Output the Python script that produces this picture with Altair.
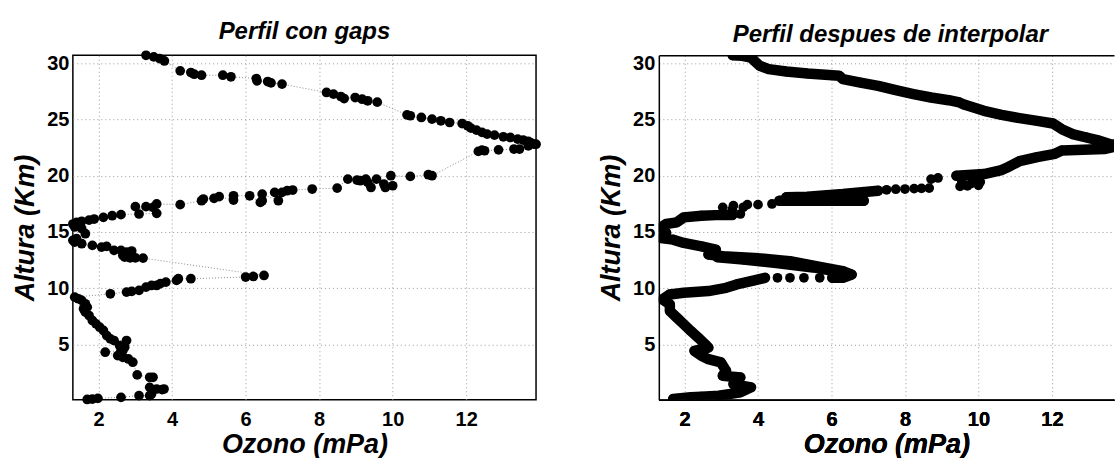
import altair as alt
import pandas as pd

# ---------------- data: measured profile with gaps (left) ----------------
gap_ozone = [1.69, 1.83, 1.98, 2.61, 3.10, 3.39, 3.44, 3.78, 3.73, 3.58, 3.39, 3.48, 3.39, 3.05,
             2.93, 2.81, 2.66, 2.52, 2.18, 2.61, 2.66, 2.71, 2.57, 2.76, 2.42, 2.32, 2.22, 2.13,
             2.03, 1.93, 1.83, 1.74, 1.64, 1.59, 1.69, 1.64, 1.54, 1.45, 1.35, 2.32, 2.76, 2.90,
             3.10, 3.29, 3.44, 3.58, 3.68, 3.83, 4.12, 4.17, 4.51, 6.00, 6.21, 6.50, 3.21, 3.00,
             2.86, 2.71, 2.66, 2.90, 2.76, 2.61, 2.42, 2.22, 2.08, 1.83, 1.54, 1.35, 1.30, 1.40,
             1.64, 1.54, 1.35, 1.30, 1.40, 1.54, 1.74, 1.88, 2.13, 2.37, 2.61, 3.10, 3.58, 3.00,
             3.29, 3.48, 3.58, 4.22, 4.80, 4.85, 5.14, 5.28, 5.67, 5.67, 6.11, 6.40, 6.45, 6.45,
             6.89, 6.79, 6.99, 7.13, 7.28, 7.81, 8.49, 8.78, 9.03, 9.12, 9.27, 9.32, 9.41, 9.56,
             9.76, 9.80, 10.00, 9.95, 10.48, 10.97, 11.07, 12.33, 12.43, 12.50, 12.88, 13.30, 13.45,
             13.69, 13.90, 13.84, 13.75, 13.69, 13.55, 13.40, 13.20, 13.01, 12.77, 12.57, 12.43,
             12.28, 12.13, 12.04, 11.89, 11.55, 11.31, 11.07, 10.78, 10.48, 10.39, 9.58, 9.32,
             9.17, 8.98, 8.68, 8.59, 8.39, 8.20, 6.99, 6.69, 6.60, 6.31, 6.29, 5.60, 5.38, 4.80,
             4.60, 4.51, 4.22, 3.79, 3.66, 3.50, 3.29]
gap_alt = [0.12, 0.16, 0.22, 0.31, 0.46, 0.46, 0.60, 1.05, 0.99, 1.05, 1.20, 2.09, 2.09, 2.30,
           3.43, 3.72, 3.87, 4.02, 4.32, 4.47, 4.47, 4.76, 4.91, 5.36, 5.36, 5.50, 5.80, 6.25,
           6.54, 6.84, 7.14, 7.58, 7.88, 8.18, 8.32, 8.62, 8.92, 9.07, 9.21, 9.51, 9.66, 9.72,
           9.81, 10.10, 10.25, 10.25, 10.41, 10.55, 10.70, 10.85, 10.85, 11.00, 11.05, 11.14, 12.68, 12.71,
           12.71, 12.77, 12.92, 13.31, 13.22, 13.37, 13.37, 13.72, 13.66, 13.81, 13.96, 14.11, 14.26, 14.41,
           14.85, 15.30, 15.45, 15.71, 15.86, 15.95, 16.06, 16.15, 16.30, 16.45, 16.54, 16.60, 16.66, 17.25,
           17.25, 17.19, 17.49, 17.43, 17.78, 17.93, 17.99, 18.14, 17.84, 18.22, 18.22, 17.63, 17.78, 18.37,
           17.78, 18.52, 18.52, 18.67, 18.73, 18.82, 18.90, 19.70, 19.61, 19.56, 19.70, 19.41, 18.96, 19.70,
           19.26, 18.96, 19.11, 20.00, 19.94, 20.09, 20.00, 22.16, 22.28, 22.22, 22.30, 22.37, 22.37,
           22.66, 22.80, 22.81, 22.95, 23.05, 23.17, 23.25, 23.40, 23.46, 23.61, 23.70, 23.85,
           24.05, 24.23, 24.44, 24.64, 24.73, 24.88, 25.03, 25.18, 25.33, 25.41, 26.54, 26.66,
           26.80, 26.95, 26.86, 27.04, 27.25, 27.40, 28.14, 28.25, 28.37, 28.43, 28.64, 28.79, 28.93, 28.93,
           29.02, 29.17, 29.32, 30.20, 30.41, 30.56, 30.70]

# ---------------- data: profile after interpolation (right) ----------------
# dense runs of interpolated points (they merge into a thick band)
run_ozone = [3.31, 3.57, 3.81, 3.90, 4.05, 4.29, 4.77, 5.35, 6.21, 6.31, 6.79, 7.27, 7.75, 8.23,
             8.71, 9.19, 9.48, 9.63, 10.15, 10.63, 11.12, 11.60, 12.03, 12.27, 12.56, 12.94, 13.23,
             13.57, 13.90, 13.42, 12.27, 12.08, 11.60, 11.12, 10.83, 10.63, 10.15, 9.40,
             7.27, 6.31, 5.35, 4.77,
             4.58, 5.70, 6.88,
             3.30, 2.85, 2.46, 1.98, 1.79, 1.50, 1.35, 1.50, 1.36, 1.69, 1.98, 2.46, 2.85, 2.65,
             3.04, 3.90, 4.87, 5.83, 6.31, 6.55, 6.31, 6.02,
             4.19, 3.81, 3.42, 3.13, 2.65, 1.98, 1.60, 1.40, 1.60, 1.60, 1.79, 1.98, 2.17, 2.37,
             2.56, 2.65, 2.27, 2.46, 2.65, 2.99, 3.13, 3.04, 3.52, 3.33, 3.81, 3.52, 2.94, 2.46,
             2.17, 1.69,
             2.90, 3.60, 4.50, 5.50, 6.20, 6.50]
run_alt = [30.70, 30.65, 30.50, 30.20, 29.76, 29.47, 29.26, 29.08, 28.88, 28.58, 28.28, 27.99, 27.60, 27.25,
           26.95, 26.71, 26.51, 26.30, 25.77, 25.41, 25.12, 24.88, 24.64, 24.14, 23.70, 23.40, 23.17,
           22.81, 22.70, 22.37, 22.25, 21.95, 21.66, 21.30, 20.80, 20.50, 20.15, 20.00,
           18.67, 18.37, 18.14, 18.10,
           17.78, 17.78, 17.78,
           16.50, 16.50, 16.45, 16.30, 15.86, 15.71, 15.40, 14.91, 14.47, 14.32, 14.03, 13.73, 13.44, 13.00,
           12.85, 12.70, 12.40, 11.81, 11.52, 11.22, 10.93, 10.93,
           10.93, 10.63, 10.34, 10.04, 9.75, 9.60, 9.45, 9.01, 8.57, 7.98, 7.39, 6.80, 6.21, 5.62,
           5.03, 4.73, 4.44, 4.00, 3.70, 3.41, 2.67, 2.23, 2.08, 1.49, 1.20, 0.75, 0.46, 0.37,
           0.31, 0.16,
           12.75, 12.55, 12.25, 11.85, 11.45, 11.25]
run_id = ["a"] * 38 + ["b"] * 4 + ["c"] * 3 + ["d"] * 22 + ["e"] * 30 + ["f"] * 6

# isolated interpolated points (visible as separate dots)
dot_ozone = [8.71, 8.90, 9.55, 9.80, 10.00, 9.70, 9.85, 10.05, 9.50,
             7.50, 7.75, 8.00, 8.25, 8.45, 8.66,
             4.38, 4.00, 3.71, 3.33, 3.04, 3.52, 3.30, 3.60,
             5.68, 5.25, 4.87, 4.53]
dot_alt = [19.70, 19.80, 19.50, 19.30, 19.15, 19.10, 19.60, 19.45, 19.05,
           18.75, 18.80, 18.82, 18.85, 18.88, 18.90,
           17.49, 17.43, 17.43, 17.34, 17.19, 16.60, 17.00, 17.20,
           10.93, 10.93, 10.93, 10.93]

x_ticks = [2, 4, 6, 8, 10, 12]
y_ticks = [5, 10, 15, 20, 25, 30]
x_domain = [1.3, 13.9]
x_domain_right = [1.3, 13.69]   # the right panel runs past the picture's edge
y_domain = [0.1, 30.7]

FONT = "Liberation Sans"
W, H = 464, 345
W_RIGHT = 456

gap_df = pd.DataFrame({"ozone": gap_ozone, "alt": gap_alt, "i": range(len(gap_ozone))})
run_df = pd.DataFrame({"ozone": run_ozone, "alt": run_alt, "run": run_id, "i": range(len(run_ozone))})
dot_df = pd.DataFrame({"ozone": dot_ozone, "alt": dot_alt})

ys = alt.Scale(domain=y_domain, nice=False, zero=False)
xax = alt.Axis(values=x_ticks, title="Ozono (mPa)", labelPadding=10, titlePadding=2, orient="bottom")
yax = alt.Axis(values=y_ticks, title="Altura (Km)", labelPadding=4, titlePadding=7)

Xl = alt.X("ozone:Q", scale=alt.Scale(domain=x_domain, nice=False, zero=False), axis=xax)
Y = alt.Y("alt:Q", scale=ys, axis=yax)

title_kw = dict(font=FONT, fontSize=24, fontWeight="bold", fontStyle="italic", color="black",
                offset=6, anchor="middle")

DOT = 95

left_line = alt.Chart(gap_df).mark_line(color="#8c8c8c", strokeDash=[1, 2], strokeWidth=1).encode(
    x=Xl, y=Y, order="i:Q")
left_pts = alt.Chart(gap_df).mark_circle(color="black", opacity=1, size=DOT).encode(x=Xl, y=Y)
left = alt.layer(left_line, left_pts).properties(
    width=W, height=H, title=alt.TitleParams("Perfil con gaps", **title_kw))

# right panel: frame drawn by axis domains (left, bottom, top); its right side lies off the picture
xs_r = alt.Scale(domain=x_domain_right, nice=False, zero=False)
xax_r = alt.Axis(values=x_ticks, title="Ozono (mPa)", labelPadding=10, titlePadding=2, orient="bottom",
                 domain=True, domainColor="black", domainWidth=1.5)
yax_r = alt.Axis(values=y_ticks, title="Altura (Km)", labelPadding=4, titlePadding=7,
                 domain=True, domainColor="black", domainWidth=1.5)
Xr = alt.X("ozone:Q", scale=xs_r, axis=xax_r)
Yr = alt.Y("alt:Q", scale=ys, axis=yax_r)
Xr_top = alt.X("ozone:Q", scale=xs_r,
               axis=alt.Axis(orient="top", labels=False, ticks=False, grid=False, domain=True,
                             domainColor="black", domainWidth=1.5, title=""))

right_band = alt.Chart(run_df).mark_line(color="black", strokeWidth=10.5, strokeCap="round",
                                         strokeJoin="round", clip=True).encode(
    x=Xr, y=Yr, detail="run:N", order="i:Q")
right_pts = alt.Chart(run_df).mark_circle(color="black", opacity=1, size=DOT, clip=True).encode(x=Xr, y=Yr)
right_dots = alt.Chart(dot_df).mark_circle(color="black", opacity=1, size=DOT, clip=True).encode(x=Xr, y=Yr)
right_top = alt.Chart(dot_df).mark_circle(opacity=0, clip=True).encode(x=Xr_top, y=Yr)
right = alt.layer(right_band, right_pts, right_dots, right_top).resolve_axis(x="independent").properties(
    width=W_RIGHT, height=H,
    view=alt.ViewBackground(stroke="transparent"),
    title=alt.TitleParams("Perfil despues de interpolar", dx=4, **title_kw))

chart = alt.hconcat(left, right, spacing=55).properties(
    padding={"left": 11, "top": 19, "right": 0, "bottom": 0},
    background="white",
).configure_view(
    stroke="black", strokeWidth=1.5
).configure_axis(
    labelFont=FONT, labelFontSize=20, labelFontWeight="bold", labelColor="black",
    titleFont=FONT, titleFontSize=27, titleFontWeight="bold", titleFontStyle="italic",
    titleColor="black",
    grid=True, gridColor="#9a9a9a", gridDash=[1, 3], gridWidth=1,
    domain=False, ticks=False,
)

chart.save("out.html", embed_options={"renderer": "svg", "actions": False})
